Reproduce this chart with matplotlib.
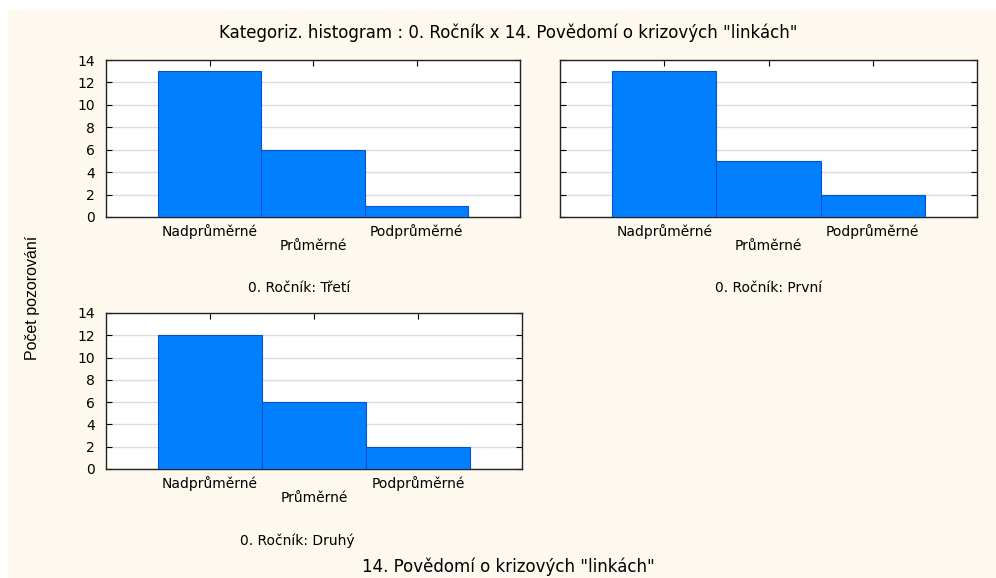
import numpy as np
import matplotlib.pyplot as plt
from matplotlib.patches import Rectangle

plt.rcParams['font.family'] = ['DejaVu Sans']

categories = ["Nadprůměrné", "Průměrné", "Podprůměrné"]
panel_names = ["0. Ročník: Třetí", "0. Ročník: První", "0. Ročník: Druhý"]
counts_treti = [13, 6, 1]
counts_prvni = [13, 5, 2]
counts_druhy = [12, 6, 2]
yticks = [0, 2, 4, 6, 8, 10, 12, 14]

W, H = 996, 578
fig = plt.figure(figsize=(W / 100, H / 100), dpi=100)
fig.patch.set_facecolor('white')
# cream background panel
fig.patches.append(Rectangle((8 / W, 0), 1 - 8 / W, 1 - 10 / H, transform=fig.transFigure,
                             facecolor='#fdf9ee', edgecolor='none', zorder=-10))


def px_axes(x0, y0, x1, y1):
    return fig.add_axes([x0 / W, 1 - y1 / H, (x1 - x0) / W, (y1 - y0) / H])


def draw_panel(ax, counts, show_ylabels):
    x = np.arange(1, len(categories) + 1)
    ax.bar(x, counts, width=1.0, color='#0080ff', edgecolor='#0a4fd0', linewidth=0.8, zorder=3)
    ax.set_xlim(0, 4)
    ax.set_ylim(0, 14)
    ax.set_yticks(yticks)
    ax.yaxis.grid(True, color='#dcdcdc', linewidth=1.0, zorder=0)
    ax.set_xticks(x)
    ax.set_xticklabels([categories[0], '\n' + categories[1], categories[2]], fontsize=10,
                       linespacing=1.1)
    ax.tick_params(direction='in', length=4, width=0.8, top=True, right=True, pad=5)
    ax.tick_params(axis='y', labelsize=10, pad=8, labelleft=show_ylabels)
    for s in ax.spines.values():
        s.set_linewidth(1.0)
        s.set_color('#222222')
    ax.set_facecolor('white')


ax1 = px_axes(106, 60, 520, 217)
draw_panel(ax1, counts_treti, True)
ax2 = px_axes(560, 60, 977, 217)
draw_panel(ax2, counts_prvni, False)
ax3 = px_axes(106, 313, 522, 469)
draw_panel(ax3, counts_druhy, True)

fig.text(299 / W, 1 - 288 / H, panel_names[0], ha='center', va='center', fontsize=10)
fig.text(769 / W, 1 - 288 / H, panel_names[1], ha='center', va='center', fontsize=10)
fig.text(297 / W, 1 - 541 / H, panel_names[2], ha='center', va='center', fontsize=10)

fig.text(508 / W, 1 - 33 / H, 'Kategoriz. histogram : 0. Ročník x 14. Povědomí o krizových "linkách"',
         ha='center', va='center', fontsize=12)
fig.text(508 / W, 1 - 567 / H, '14. Povědomí o krizových "linkách"', ha='center', va='center', fontsize=12)
fig.text(33 / W, 1 - 298 / H, 'Počet pozorování', ha='center', va='center', rotation=90, fontsize=11.5,
         family='Liberation Sans')

fig.savefig('out.png', dpi=100, facecolor=fig.get_facecolor())
